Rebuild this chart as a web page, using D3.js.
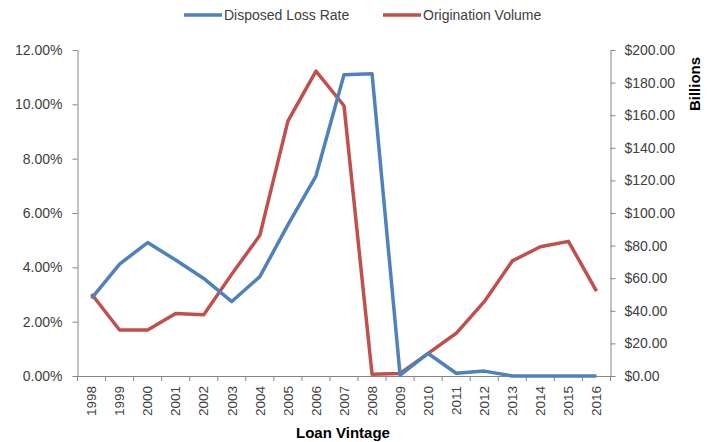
<!DOCTYPE html>
<html lang="en">
<head>
<meta charset="utf-8">
<script src="https://d3js.org/d3.v7.min.js"></script>
<style>
  body { margin: 0; background: #fff; }
  text { font-family: "Liberation Sans", Arial, sans-serif; }
</style>
</head>
<body>
<script>
var years = ["1998","1999","2000","2001","2002","2003","2004","2005","2006","2007",
             "2008","2009","2010","2011","2012","2013","2014","2015","2016"];
var lossRate = [2.86, 4.12, 4.91, 4.27, 3.59, 2.74, 3.66, 5.56, 7.36, 11.09,
                11.13, 0.03, 0.83, 0.10, 0.18, 0.0, 0.0, 0.0, 0.0];
var volume = [50.3, 28.2, 28.2, 38.4, 37.6, 62.5, 86.3, 156.4, 187.1, 165.8,
              1.0, 1.6, 13.9, 26.2, 45.6, 70.6, 79.3, 82.6, 52.1];
var leftTicks = [0, 2, 4, 6, 8, 10, 12];
var rightTicks = [0, 20, 40, 60, 80, 100, 120, 140, 160, 180, 200];

var width = 712, height = 442;
var plotLeft = 77.5, plotRight = 610.5, plotTop = 50, plotBottom = 376;
var blue = "#4f81bd", red = "#c0504d", axisColor = "#868686", labelColor = "#404040";

var svg = d3.select("body").append("svg")
    .attr("width", width)
    .attr("height", height);

var x = d3.scaleBand().domain(years).range([plotLeft, plotRight]);
var yL = d3.scaleLinear().domain([0, 12]).range([plotBottom, plotTop]);
var yR = d3.scaleLinear().domain([0, 200]).range([plotBottom, plotTop]);

// left axis
var gL = svg.append("g")
    .attr("transform", "translate(" + plotLeft + ",0)")
    .call(d3.axisLeft(yL).tickValues(leftTicks).tickSize(5).tickSizeOuter(0).tickPadding(10)
        .tickFormat(function (d) { return d.toFixed(2) + "%"; }));

// right axis
var gR = svg.append("g")
    .attr("transform", "translate(" + plotRight + ",0)")
    .call(d3.axisRight(yR).tickValues(rightTicks).tickSize(5).tickSizeOuter(0).tickPadding(9)
        .tickFormat(function (d) { return "$" + d.toFixed(2); }));

// bottom axis
var gB = svg.append("g")
    .attr("transform", "translate(0," + plotBottom + ")")
    .call(d3.axisBottom(x).tickSize(5).tickSizeOuter(0));
// ticks between categories
gB.selectAll(".tick line").attr("transform", "translate(" + (-x.bandwidth() / 2) + ",0)");
gB.append("line")
    .attr("x1", plotRight).attr("x2", plotRight).attr("y1", 0).attr("y2", 5)
    .attr("stroke", axisColor);
gB.selectAll(".tick text")
    .attr("transform", "rotate(-90)")
    .attr("text-anchor", "end")
    .attr("x", -10).attr("y", 0).attr("dy", "0.35em");

[gL, gR, gB].forEach(function (g) {
  g.select(".domain").attr("stroke", axisColor);
  g.selectAll(".tick line").attr("stroke", axisColor);
  g.selectAll(".tick text").attr("fill", labelColor).style("font-size", "14px");
});
gB.selectAll(".tick text").style("font-size", "13.5px");

// lines
var lineL = d3.line()
    .x(function (d, i) { return x(years[i]) + x.bandwidth() / 2; })
    .y(function (d) { return yL(d); });
var lineR = d3.line()
    .x(function (d, i) { return x(years[i]) + x.bandwidth() / 2; })
    .y(function (d) { return yR(d); });

svg.append("path").datum(volume)
    .attr("d", lineR)
    .attr("fill", "none").attr("stroke", red)
    .attr("stroke-width", 3.5).attr("stroke-linejoin", "round");
svg.append("path").datum(lossRate)
    .attr("d", lineL)
    .attr("fill", "none").attr("stroke", blue)
    .attr("stroke-width", 3.5).attr("stroke-linejoin", "round");

// axis titles
svg.append("text")
    .attr("x", 343).attr("y", 438)
    .attr("text-anchor", "middle")
    .style("font-size", "15px").style("font-weight", "bold")
    .attr("fill", "#000")
    .text("Loan Vintage");

svg.append("text")
    .attr("transform", "translate(700,84) rotate(-90)")
    .attr("text-anchor", "middle")
    .style("font-size", "15px").style("font-weight", "bold")
    .attr("fill", "#000")
    .text("Billions");

// legend
var legend = [
  { name: "Disposed Loss Rate", color: blue, x: 184 },
  { name: "Origination Volume", color: red, x: 383 }
];
var lg = svg.selectAll(".legend").data(legend).enter().append("g")
    .attr("transform", function (d) { return "translate(" + d.x + ",15)"; });
lg.append("line")
    .attr("x1", 0).attr("x2", 38)
    .attr("stroke", function (d) { return d.color; })
    .attr("stroke-width", 3.5);
lg.append("text")
    .attr("x", 40).attr("dy", "0.35em")
    .style("font-size", "14px")
    .attr("fill", labelColor)
    .text(function (d) { return d.name; });
</script>
</body>
</html>
